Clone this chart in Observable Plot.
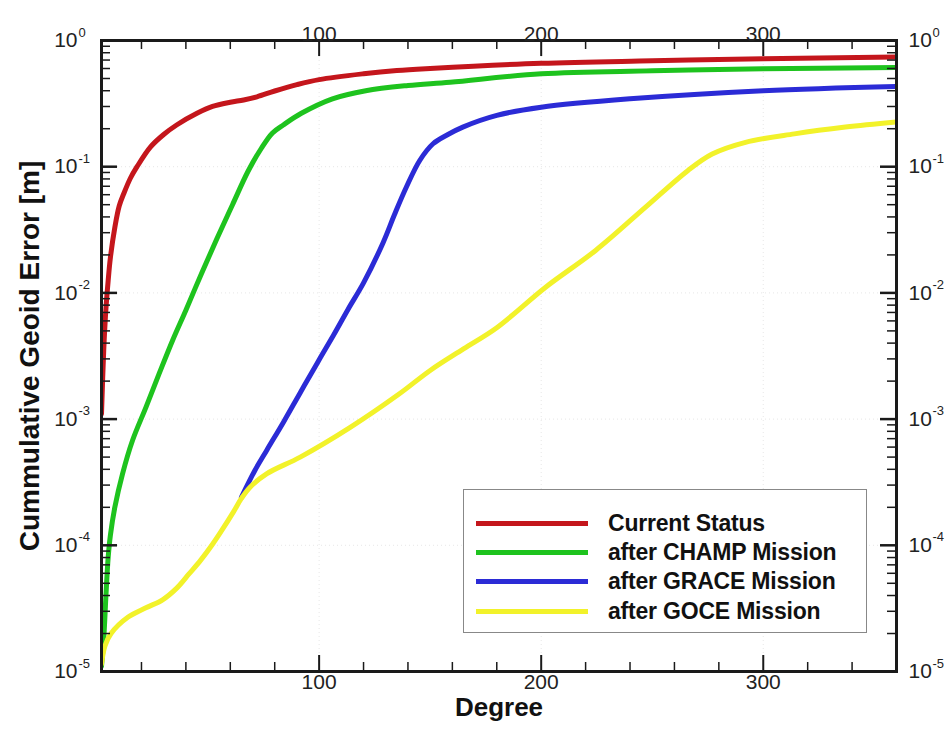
<!DOCTYPE html>
<html><head><meta charset="utf-8">
<script src="https://cdn.jsdelivr.net/npm/d3@7"></script>
<script src="https://cdn.jsdelivr.net/npm/@observablehq/plot@0.6"></script>
<style>
body{margin:0;background:#fff;}
#wrap{position:relative;width:947px;height:729px;font-family:"Liberation Sans",Arial,Helvetica,sans-serif;}
#legend{position:absolute;left:463px;top:489px;width:404px;height:144px;border:1.5px solid #888;background:#fff;box-sizing:border-box;}
.row{position:absolute;left:0;height:30px;display:flex;align-items:center;}
.sw{width:112px;height:5px;margin-left:12px;margin-right:20px;}
.lab{font-weight:bold;font-size:23px;color:#111;white-space:nowrap;letter-spacing:-0.2px;}
</style></head>
<body><div id="wrap"><div id="chart"></div><div id="legend"></div></div>
<script>
// ---- data ----
const seriesNames = ["Current Status", "after CHAMP Mission", "after GRACE Mission", "after GOCE Mission"];
const seriesColors = ["#c4161c", "#1ec31e", "#2b2bd6", "#f2f22a"];

const currentDeg = [2, 3, 4, 5, 6, 8, 10, 12, 15, 18, 24, 30, 36, 45, 52, 60, 66, 72, 80, 90, 100, 120, 135, 150, 200, 250, 300, 360];
const currentErr = [1.1e-3, 3.5e-3, 7.5e-3, 1.25e-2, 1.9e-2, 3.3e-2, 4.9e-2, 6.1e-2, 8.1e-2, 0.1, 0.143, 0.18, 0.215, 0.265, 0.3, 0.324, 0.338, 0.358, 0.398, 0.447, 0.49, 0.545, 0.578, 0.6, 0.66, 0.69, 0.716, 0.74];

const champDeg = [2, 3, 4, 5, 6, 8, 11.5, 16, 22, 28, 34, 40, 47, 54, 61, 68, 74, 79, 84, 92, 106, 121, 140, 159, 200, 250, 300, 360];
const champErr = [1.1e-5, 1.8e-5, 4e-5, 8e-5, 1.2e-4, 2e-4, 3.7e-4, 6.8e-4, 1.24e-3, 2.3e-3, 4.2e-3, 7.3e-3, 1.42e-2, 2.7e-2, 5.0e-2, 9.2e-2, 0.14, 0.185, 0.215, 0.265, 0.345, 0.40, 0.44, 0.467, 0.545, 0.575, 0.597, 0.61];

const graceDeg = [65, 71, 76.5, 84, 91.5, 99, 106.4, 113, 120, 128.8, 134, 139.3, 145.3, 151.3, 158, 164.7, 180, 200, 240, 300, 360];
const graceErr = [2.4e-4, 3.9e-4, 5.7e-4, 9.5e-4, 1.62e-3, 2.75e-3, 4.6e-3, 7.4e-3, 1.2e-2, 2.5e-2, 4.2e-2, 6.9e-2, 0.112, 0.152, 0.18, 0.206, 0.255, 0.296, 0.345, 0.40, 0.432];

const goceDeg = [2, 3.6, 6.3, 14, 22, 29.5, 36, 41.3, 46.6, 52, 56, 61.5, 65, 69, 76.5, 91.5, 114, 136, 150, 165, 180, 202, 224.5, 247, 266, 277, 292, 314, 337, 360];
const goceErr = [1.15e-5, 1.6e-5, 2.0e-5, 2.7e-5, 3.2e-5, 3.7e-5, 4.6e-5, 5.9e-5, 7.6e-5, 1.02e-4, 1.3e-4, 1.85e-4, 2.35e-4, 2.9e-4, 3.7e-4, 5e-4, 8.6e-4, 1.58e-3, 2.43e-3, 3.6e-3, 5.3e-3, 1.11e-2, 2.17e-2, 4.78e-2, 9.3e-2, 0.126, 0.156, 0.182, 0.206, 0.226];

const xTickLabels = [100, 200, 300];
const yDecades = [1e-5, 1e-4, 1e-3, 1e-2, 1e-1, 1];
const xTitle = "Degree";
const yTitle = "Cummulative Geoid Error [m]";

// ---- build ----
const W = 947, H = 729, mL = 101, mR = 51, mT = 40, mB = 58;
const innerW = W - mL - mR, innerH = H - mT - mB;

const toRows = (deg, err, name) => deg.map((d, i) => ({degree: d, error: err[i], series: name}));
const allSeries = [
  toRows(currentDeg, currentErr, seriesNames[0]),
  toRows(champDeg, champErr, seriesNames[1]),
  toRows(graceDeg, graceErr, seriesNames[2]),
  toRows(goceDeg, goceErr, seriesNames[3])
];

const xMinor = d3.range(20, 361, 20).filter(d => !xTickLabels.includes(d));
const yMinor = [];
for (const dec of yDecades.slice(0, -1)) for (let k = 2; k <= 9; k++) yMinor.push(dec * k);

const font = "Liberation Sans, Arial, Helvetica, sans-serif";
const tickColor = "#1a1a1a";
const MAJ = 16, MIN = 9;

const marks = [
  // faint grid
  Plot.gridX(xTickLabels, {stroke: "#bbb", strokeOpacity: 0.35, strokeDasharray: "1,3"}),
  Plot.gridY(yDecades.slice(1, -1), {stroke: "#bbb", strokeOpacity: 0.35, strokeDasharray: "1,3"}),
  // curves
  ...allSeries.map((rows, i) => Plot.line(rows, {x: "degree", y: "error", stroke: seriesColors[i], strokeWidth: 5, curve: "catmull-rom", clip: true})),
  // inner ticks: bottom & top
  Plot.tickX(xTickLabels, {x: d => d, insetTop: innerH - MAJ, stroke: tickColor, strokeWidth: 2}),
  Plot.tickX(xMinor, {x: d => d, insetTop: innerH - MIN, stroke: tickColor, strokeWidth: 1.5}),
  Plot.tickX(xTickLabels, {x: d => d, insetBottom: innerH - MAJ, stroke: tickColor, strokeWidth: 2}),
  Plot.tickX(xMinor, {x: d => d, insetBottom: innerH - MIN, stroke: tickColor, strokeWidth: 1.5}),
  // inner ticks: left & right
  Plot.tickY(yDecades, {y: d => d, insetRight: innerW - MAJ, stroke: tickColor, strokeWidth: 2.5}),
  Plot.tickY(yMinor, {y: d => d, insetRight: innerW - MIN, stroke: tickColor, strokeWidth: 1.5}),
  Plot.tickY(yDecades, {y: d => d, insetLeft: innerW - MAJ, stroke: tickColor, strokeWidth: 2.5}),
  Plot.tickY(yMinor, {y: d => d, insetLeft: innerW - MIN, stroke: tickColor, strokeWidth: 1.5}),
  Plot.frame({stroke: "#1a1a1a", strokeWidth: 3}),
  // x tick labels
  Plot.text(xTickLabels, {x: d => d, frameAnchor: "bottom", dy: 17, text: d => String(d), fontSize: 21, fill: "#222", fontFamily: font}),
  Plot.text(xTickLabels, {x: d => d, frameAnchor: "top", dy: -14, text: d => String(d), fontSize: 21, fill: "#222", fontFamily: font}),
  // y tick labels (left)
  Plot.text(yDecades, {y: d => d, frameAnchor: "left", dx: -24, textAnchor: "end", text: () => "10", fontSize: 21, fill: "#222", fontFamily: font}),
  Plot.text(yDecades, {y: d => d, frameAnchor: "left", dx: -23, dy: -8, textAnchor: "start", text: d => String(Math.round(Math.log10(d))), fontSize: 13, fill: "#222", fontFamily: font}),
  // y tick labels (right)
  Plot.text(yDecades, {y: d => d, frameAnchor: "right", dx: 12, textAnchor: "start", text: () => "10", fontSize: 21, fill: "#222", fontFamily: font}),
  Plot.text(yDecades, {y: d => d, frameAnchor: "right", dx: 36, dy: -8, textAnchor: "start", text: d => String(Math.round(Math.log10(d))), fontSize: 13, fill: "#222", fontFamily: font}),
  // titles
  Plot.text([xTitle], {frameAnchor: "bottom", dy: 44, fontSize: 26, fontWeight: "bold", fill: "#111", fontFamily: font}),
  Plot.text([yTitle], {frameAnchor: "left", dx: -71, rotate: -90, textAnchor: "middle", fontSize: 28, fontWeight: "bold", fill: "#111", fontFamily: font})
];

const chart = Plot.plot({
  width: W, height: H,
  marginLeft: mL, marginRight: mR, marginTop: mT, marginBottom: mB,
  style: {fontFamily: font, background: "#fff", overflow: "visible"},
  x: {domain: [2, 360], axis: null},
  y: {type: "log", domain: [1e-5, 1], axis: null},
  marks
});
document.getElementById("chart").appendChild(chart);

// legend (inside the plot area, lower right)
const legend = document.getElementById("legend");
const rowTops = [18, 47, 76, 106];
seriesNames.forEach((name, i) => {
  const row = document.createElement("div");
  row.className = "row";
  row.style.top = rowTops[i] + "px";
  const sw = document.createElement("div");
  sw.className = "sw";
  sw.style.background = seriesColors[i];
  const lab = document.createElement("span");
  lab.className = "lab";
  lab.textContent = name;
  row.appendChild(sw); row.appendChild(lab);
  legend.appendChild(row);
});
</script>
</body></html>
